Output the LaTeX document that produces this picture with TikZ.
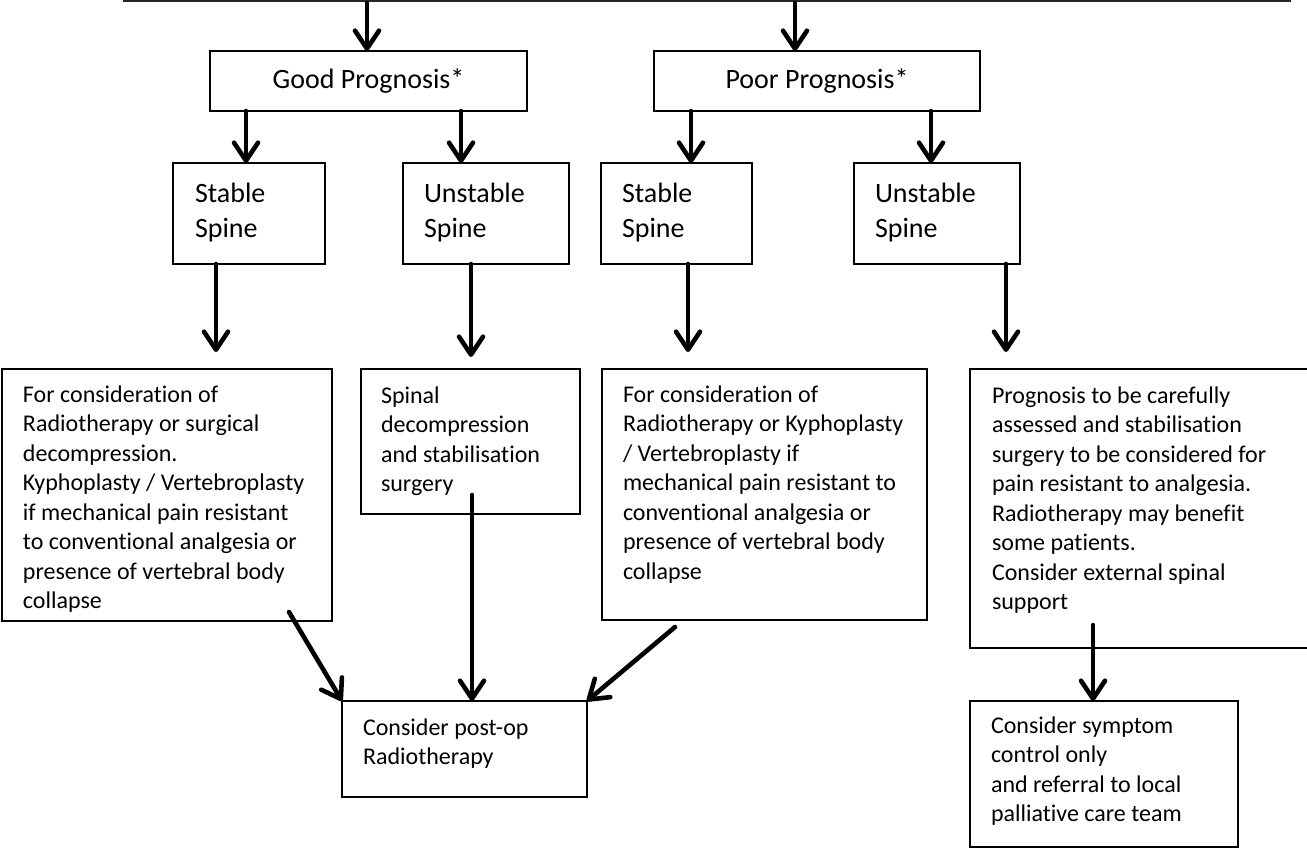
\documentclass[tikz,border=0pt]{standalone}
\usepackage{fontspec}
\setmainfont{Carlito}[Ligatures=NoCommon]
\usetikzlibrary{arrows.meta}
\newcommand\tb[5]{\parbox[t][#2][t]{#1}{\raggedright\leftskip=#3\relax\vspace*{\dimexpr#4-0.7\baselineskip\relax}\strut #5}}
\begin{document}
\begin{tikzpicture}[x=0.5pt,y=-0.5pt,
  box/.style={draw=black, line width=0.75pt, anchor=north west, inner sep=0pt, outer sep=0pt},
  small/.style={font=\fontsize{12pt}{14.75pt}\selectfont},
  big/.style={font=\fontsize{14pt}{17.5pt}\selectfont},
  arr/.style={line width=2.3pt, line cap=round, -{Straight Barb[length=9pt,width=12pt,round]}},
  rule/.style={line width=0.75pt, draw=black!85},
]
\useasboundingbox (0,0) rectangle (1307,848);

% top rule and entry arrows
\coordinate (topL) at (123,1);
\coordinate (topR) at (1291,1);
\draw[rule] (topL) -- (topR);

\node[box, big, minimum width=158.5pt, minimum height=30pt] (good) at (210,51) {Good Prognosis*};
\node[box, big, minimum width=163pt, minimum height=30pt] (poor) at (654,51) {Poor Prognosis*};

\node[box, big] (gs) at (173,163) {\tb{76pt}{50.5pt}{11pt}{19.5pt}{Stable\\Spine}};
\node[box, big] (gu) at (403,163) {\tb{83pt}{50.5pt}{10.5pt}{19.5pt}{Unstable\\Spine}};
\node[box, big] (ps) at (601,163) {\tb{75.5pt}{50.5pt}{10.5pt}{19.5pt}{Stable\\Spine}};
\node[box, big] (pu) at (854,163) {\tb{83pt}{50.5pt}{10.5pt}{19.5pt}{Unstable\\Spine}};

\node[box, small] (a) at (2,369) {\tb{165pt}{126pt}{10.5pt}{16.5pt}{For consideration of\\Radiotherapy or surgical\\decompression.\\Kyphoplasty / Vertebroplasty\\if mechanical pain resistant\\to conventional analgesia or\\presence of vertebral body\\collapse}};
\node[box, small] (b) at (361,369) {\tb{109.5pt}{72.5pt}{10pt}{17pt}{Spinal\\decompression\\and stabilisation\\surgery}};
\node[box, small] (c) at (602,369) {\tb{162.5pt}{125.5pt}{10.5pt}{16.5pt}{For consideration of\\Radiotherapy or Kyphoplasty\\/ Vertebroplasty if\\mechanical pain resistant to\\conventional analgesia or\\presence of vertebral body\\collapse}};
\node[box, small] (d) at (970,369) {\tb{172.5pt}{139.5pt}{11pt}{17pt}{Prognosis to be carefully\\assessed and stabilisation\\surgery to be considered for\\pain resistant to analgesia.\\Radiotherapy may benefit\\some patients.\\Consider external spinal\\support}};

\node[box, small] (post) at (342,701) {\tb{122.5pt}{48pt}{10.5pt}{17pt}{Consider post-op\\Radiotherapy}};
\node[box, small] (sym) at (970,701) {\tb{134pt}{73pt}{10.5pt}{16pt}{Consider symptom\\control only\\and referral to local\\palliative care team}};

% arrows
\coordinate (t1) at (367,3);
\coordinate (t2) at (795,3);
\draw[arr] (t1) -- (t1 |- good.north);
\draw[arr] (t2) -- (t2 |- poor.north);

\coordinate (x1) at (246,0);
\coordinate (x2) at (461,0);
\coordinate (x3) at (691,0);
\coordinate (x4) at (931,0);
\draw[arr] (x1 |- good.south) -- (x1 |- gs.north);
\draw[arr] (x2 |- good.south) -- (x2 |- gu.north);
\draw[arr] (x3 |- poor.south) -- (x3 |- ps.north);
\draw[arr] (x4 |- poor.south) -- (x4 |- pu.north);

\coordinate (e1) at (216,352);
\coordinate (e2) at (471,357);
\coordinate (e3) at (688,352);
\coordinate (e4) at (1006,352);
\draw[arr] (e1 |- gs.south) -- (e1);
\draw[arr] (e2 |- gu.south) -- (e2);
\draw[arr] (e3 |- ps.south) -- (e3);
\draw[arr] (e4 |- pu.south) -- (e4);

\coordinate (s1) at (289,612);
\coordinate (s2) at (472,495);
\coordinate (s3) at (675,627);
\coordinate (s4) at (1093,625);
\draw[arr] (s1) -- (post.north west);
\draw[arr] (s2) -- (s2 |- post.north);
\draw[arr] (s3) -- (post.north east);
\draw[arr] (s4) -- (s4 |- sym.north);
\end{tikzpicture}
\end{document}
